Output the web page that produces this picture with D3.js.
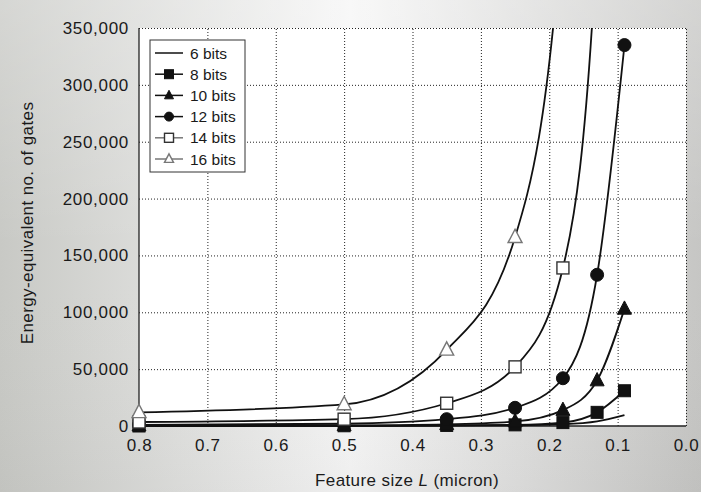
<!DOCTYPE html>
<html><head><meta charset="utf-8">
<script src="https://cdn.jsdelivr.net/npm/d3@7/dist/d3.min.js"></script>
<style>
html,body{margin:0;padding:0;background:#fff;}
svg text{font-family:"Liberation Sans",Arial,Helvetica,sans-serif;fill:#1a1a1a;}
</style></head>
<body>
<svg id="chart" width="701" height="492"></svg>
<script>
// Feature sizes (micron)
const featureSizes = [0.8, 0.5, 0.35, 0.25, 0.18, 0.13, 0.09];
// Energy-equivalent number of gates per resolution (values beyond 350,000 run off the top)
const bits6  = [0, 100, 300, 600, 1500, 4000, 9500];
const bits8  = [0, 200, 500, 1000, 3000, 12000, 31000];
const bits10 = [300, 600, 1500, 4000, 14000, 40000, 103000];
const bits12 = [1000, 2000, 6000, 16000, 42000, 133000, 335000];
const bits14 = [3500, 6000, 20000, 52000, 139000, 430000, 1100000];
const bits16 = [12000, 19000, 67000, 166000, 450000, 1400000, 3500000];
const seriesNames = ["6 bits", "8 bits", "10 bits", "12 bits", "14 bits", "16 bits"];
const markerTypes = ["none", "square", "triangle", "circle", "square", "triangle"];
const markerFilled = [true, true, true, true, false, false];
const xTicks = [0.8, 0.7, 0.6, 0.5, 0.4, 0.3, 0.2, 0.1, 0.0];
const yTicks = [0, 50000, 100000, 150000, 200000, 250000, 300000, 350000];
const xTitle = "Feature size ";
const xTitleItalic = "L";
const xTitleEnd = " (micron)";
const yTitle = "Energy-equivalent no. of gates";

const allSeries = [bits6, bits8, bits10, bits12, bits14, bits16];

const W = 701, H = 492;
const m = {left: 139, right: 686, top: 28, bottom: 426};
const svg = d3.select("#chart");

// background gradient
const defs = svg.append("defs");
const g1 = defs.append("linearGradient").attr("id", "bg").attr("x1", "0").attr("x2", "1").attr("y1", "0").attr("y2", "0");
g1.append("stop").attr("offset", "0").attr("stop-color", "#c8c9c5");
g1.append("stop").attr("offset", "0.5").attr("stop-color", "#f6f6f6");
g1.append("stop").attr("offset", "1").attr("stop-color", "#c6c6c4");
svg.append("rect").attr("width", W).attr("height", H).attr("fill", "url(#bg)");
const g2 = defs.append("linearGradient").attr("id", "bg2").attr("x1", "0").attr("x2", "0").attr("y1", "0").attr("y2", "1");
g2.append("stop").attr("offset", "0").attr("stop-color", "#fff").attr("stop-opacity", 0.25);
g2.append("stop").attr("offset", "0.5").attr("stop-color", "#fff").attr("stop-opacity", 0);
g2.append("stop").attr("offset", "1").attr("stop-color", "#000").attr("stop-opacity", 0.03);
svg.append("rect").attr("width", W).attr("height", H).attr("fill", "url(#bg2)");

defs.append("clipPath").attr("id", "clip").append("rect")
  .attr("x", m.left - 8).attr("y", m.top).attr("width", m.right - m.left + 10).attr("height", m.bottom - m.top + 10);

const x = d3.scaleLinear().domain([0.8, 0]).range([m.left, m.right]);
const y = d3.scaleLinear().domain([0, 350000]).range([m.bottom, m.top]);

svg.append("rect").attr("x", m.left).attr("y", m.top).attr("width", m.right - m.left).attr("height", m.bottom - m.top).attr("fill", "#fff");

// grid
const gx = svg.append("g").attr("transform", `translate(0,${m.bottom})`)
  .call(d3.axisBottom(x).tickValues(xTicks.slice(1)).tickSize(-(m.bottom - m.top)).tickFormat(""));
gx.select(".domain").remove();
gx.selectAll("line").attr("stroke", "#222").attr("stroke-dasharray", "1,2").attr("stroke-width", 1);
const gy = svg.append("g").attr("transform", `translate(${m.left},0)`)
  .call(d3.axisLeft(y).tickValues(yTicks.slice(1)).tickSize(-(m.right - m.left)).tickFormat(""));
gy.select(".domain").remove();
gy.selectAll("line").attr("stroke", "#222").attr("stroke-dasharray", "1,2").attr("stroke-width", 1);

// axis lines
svg.append("line").attr("x1", m.left).attr("x2", m.left).attr("y1", m.top).attr("y2", m.bottom).attr("stroke", "#222").attr("stroke-width", 1.3);
svg.append("line").attr("x1", m.left).attr("x2", m.right).attr("y1", m.bottom).attr("y2", m.bottom).attr("stroke", "#222").attr("stroke-width", 1.3);

// tick labels
const ax = svg.append("g").attr("transform", `translate(0,${m.bottom})`)
  .call(d3.axisBottom(x).tickValues(xTicks).tickSize(0).tickPadding(13).tickFormat(d3.format(".1f")));
ax.select(".domain").remove();
ax.selectAll("text").style("font-size", "17px").style("letter-spacing", "0.7px").attr("fill", "#1a1a1a");
const ay = svg.append("g").attr("transform", `translate(${m.left},0)`)
  .call(d3.axisLeft(y).tickValues(yTicks).tickSize(0).tickPadding(10).tickFormat(d3.format(",")));
ay.select(".domain").remove();
ay.selectAll("text").style("font-size", "17px").style("letter-spacing", "0.7px").attr("fill", "#1a1a1a");

// titles
const xt = svg.append("text").attr("x", 407).attr("y", 486).attr("text-anchor", "middle")
  .style("font-size", "17px").style("letter-spacing", "0.4px");
xt.append("tspan").text(xTitle);
xt.append("tspan").style("font-style", "italic").text(xTitleItalic);
xt.append("tspan").text(xTitleEnd);
svg.append("text").attr("transform", "translate(33,223) rotate(-90)").attr("text-anchor", "middle")
  .style("font-size", "17px").style("letter-spacing", "0.4px").text(yTitle);

// symbols
function drawMarker(sel, type, filled, size, stroke) {
  const fill = filled ? "#111" : "#fff";
  let p;
  if (type === "square") p = sel.append("rect").attr("x", -size / 2).attr("y", -size / 2).attr("width", size).attr("height", size);
  else if (type === "circle") p = sel.append("circle").attr("r", size / 2);
  else if (type === "triangle") {
    const h = size * 0.95;
    p = sel.append("path").attr("d", `M0,${-h * 0.6}L${size / 2},${h * 0.4}L${-size / 2},${h * 0.4}Z`);
  } else return;
  p.attr("fill", fill).attr("stroke", filled ? "#111" : stroke).attr("stroke-width", filled ? 1 : 1.4);
}
const openStroke = ["#111", "#111", "#111", "#111", "#333", "#777"];

const plot = svg.append("g").attr("clip-path", "url(#clip)");
const line = d3.line().x(d => x(d[0])).y(d => y(d[1])).curve(d3.curveMonotoneX);
allSeries.forEach((vals, i) => {
  const pts = featureSizes.map((f, j) => [f, vals[j]]);
  plot.append("path").datum(pts).attr("d", line).attr("fill", "none").attr("stroke", "#111").attr("stroke-width", 1.8);
});
allSeries.forEach((vals, i) => {
  featureSizes.forEach((f, j) => {
    if (vals[j] > 360000) return;
    const g = plot.append("g").attr("transform", `translate(${x(f)},${y(vals[j])})`);
    drawMarker(g, markerTypes[i], markerFilled[i], markerTypes[i] === "circle" ? 13 : (markerTypes[i] === "triangle" ? 14 : 12), openStroke[i]);
  });
});

// legend
const lg = svg.append("g");
lg.append("rect").attr("x", 150).attr("y", 40).attr("width", 95).attr("height", 132).attr("fill", "#fff").attr("stroke", "#333").attr("stroke-width", 1);
seriesNames.forEach((n, i) => {
  const yy = 53 + i * 21.2;
  lg.append("line").attr("x1", 155).attr("x2", 183).attr("y1", yy).attr("y2", yy)
    .attr("stroke", i >= 4 ? "#777" : "#111").attr("stroke-width", 1.5);
  const g = lg.append("g").attr("transform", `translate(169,${yy})`);
  drawMarker(g, markerTypes[i], markerFilled[i], 9, openStroke[i]);
  lg.append("text").attr("x", 190).attr("y", yy + 5.5).style("font-size", "15.5px").text(n);
});
</script>
</body></html>
